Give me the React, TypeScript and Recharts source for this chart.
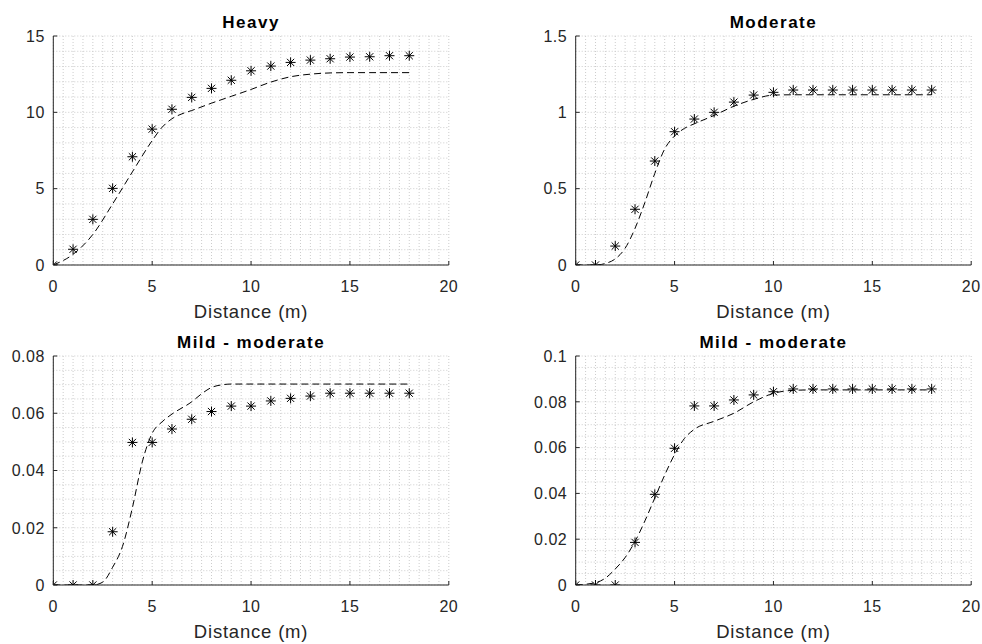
import React from "react";
import { CartesianGrid, ComposedChart, Line, Scatter, XAxis, YAxis } from "recharts";

// measured points (stars), one per metre
const distance = [0, 1, 2, 3, 4, 5, 6, 7, 8, 9, 10, 11, 12, 13, 14, 15, 16, 17, 18];
const heavyObserved = [0, 1.03, 2.99, 5.02, 7.09, 8.9, 10.2, 10.98, 11.57, 12.1, 12.72, 13.03, 13.27, 13.42, 13.51, 13.62, 13.64, 13.71, 13.71];
const moderateObserved = [0, 0, 0.124, 0.365, 0.681, 0.873, 0.956, 1.0, 1.067, 1.113, 1.131, 1.146, 1.146, 1.146, 1.146, 1.146, 1.146, 1.146, 1.146];
const mildObserved = [0, 0, 0, 0.0186, 0.0498, 0.0498, 0.0545, 0.0579, 0.0606, 0.0625, 0.0625, 0.0643, 0.0652, 0.066, 0.067, 0.067, 0.067, 0.067, 0.067];
const mild2Observed = [0, 0, 0, 0.0186, 0.0396, 0.0597, 0.0782, 0.0782, 0.0808, 0.083, 0.0844, 0.0856, 0.0856, 0.0856, 0.0856, 0.0856, 0.0856, 0.0856, 0.0856];

// fitted curves (dashed)
const heavyFitX = [0, 1, 2, 3, 4, 5, 5.5, 6, 6.5, 7, 8, 9, 10, 11, 12, 13, 14, 15, 16, 17, 18];
const heavyFitY = [0, 0.7, 2.0, 4.0, 6.1, 8.15, 9.02, 9.58, 9.9, 10.12, 10.6, 11.05, 11.5, 11.98, 12.33, 12.5, 12.58, 12.6, 12.6, 12.6, 12.6];
const moderateFitX = [0, 1, 1.5, 2, 2.5, 3, 3.5, 4, 4.5, 5, 5.5, 6, 7, 8, 9, 10, 11, 12, 13, 14, 15, 16, 17, 18];
const moderateFitY = [0, 0, 0.01, 0.04, 0.11, 0.24, 0.41, 0.6, 0.76, 0.845, 0.895, 0.925, 0.98, 1.04, 1.085, 1.113, 1.115, 1.115, 1.115, 1.115, 1.115, 1.115, 1.115, 1.115];
const mildFitX = [0, 1, 2, 2.5, 3, 3.5, 4, 4.5, 5, 5.5, 6, 7, 7.5, 8, 8.5, 9, 10, 11, 12, 13, 14, 15, 16, 17, 18];
const mildFitY = [0, 0, 0, 0.001, 0.0062, 0.0135, 0.027, 0.043, 0.053, 0.057, 0.0597, 0.064, 0.0668, 0.069, 0.0699, 0.0702, 0.0702, 0.0702, 0.0702, 0.0702, 0.0702, 0.0702, 0.0702, 0.0702, 0.0702];
const mild2FitX = [0, 1, 1.5, 2, 2.5, 3, 3.5, 4, 4.5, 5, 5.5, 6, 7, 8, 9, 10, 11, 12, 13, 14, 15, 16, 17, 18];
const mild2FitY = [0, 0.001, 0.003, 0.007, 0.012, 0.019, 0.028, 0.038, 0.048, 0.057, 0.064, 0.068, 0.0715, 0.075, 0.08, 0.0837, 0.085, 0.0852, 0.0852, 0.0852, 0.0852, 0.0852, 0.0852, 0.0852];

const xTicks = [0, 5, 10, 15, 20];
const heavyTicks = [0, 5, 10, 15];
const moderateTicks = [0, 0.5, 1, 1.5];
const mildTicks = [0, 0.02, 0.04, 0.06, 0.08];
const mild2Ticks = [0, 0.02, 0.04, 0.06, 0.08, 0.1];

const INK = "#262626";
const FONT = "'Liberation Sans', Arial, Helvetica, sans-serif";

const steps = (max: number, step: number) => {
  const out: number[] = [];
  for (let i = 0; i * step <= max + step / 1000; i++) out.push(+(i * step).toFixed(6));
  return out;
};

const xMinor = steps(20, 0.5);

function XTick({ x, y, payload }: any) {
  return (
    <g>
      <line x1={x} x2={x} y1={y} y2={y - 4} stroke={INK} />
      <text x={x} y={y + 26.7} textAnchor="middle" fill={INK} fontSize={16} fontFamily={FONT} style={{ letterSpacing: 0.5 }}>
        {payload.value}
      </text>
    </g>
  );
}

function YTick({ x, y, payload }: any) {
  return (
    <g>
      <line x1={x} x2={x + 4} y1={y} y2={y} stroke={INK} />
      <text x={x - 8.5} y={y} dy="0.36em" textAnchor="end" fill={INK} fontSize={16} fontFamily={FONT} style={{ letterSpacing: 0.5 }}>
        {payload.value}
      </text>
    </g>
  );
}

function Star({ cx, cy }: any) {
  const r = 5;
  const d = 3.6;
  return (
    <g stroke="#000" strokeWidth={1}>
      <line x1={cx - r} x2={cx + r} y1={cy} y2={cy} />
      <line x1={cx} x2={cx} y1={cy - r} y2={cy + r} />
      <line x1={cx - d} x2={cx + d} y1={cy - d} y2={cy + d} />
      <line x1={cx - d} x2={cx + d} y1={cy + d} y2={cy - d} />
    </g>
  );
}

interface PanelProps {
  left: number;
  top: number;
  yAxisWidth: number;
  width: number;
  title: string;
  observed: number[];
  fitX: number[];
  fitY: number[];
  yTicks: number[];
  yMinorStep: number;
}

function Panel({ left, top, yAxisWidth, width, title, observed, fitX, fitY, yTicks, yMinorStep }: PanelProps) {
  const yMax = yTicks[yTicks.length - 1];
  const points = distance.map((x, i) => ({ x, y: observed[i] }));
  const fit = fitX.map((x, i) => ({ x, y: fitY[i] }));
  const plotW = 395.5;
  const rightMargin = width - yAxisWidth - plotW;
  return (
    <div style={{ position: "absolute", left, top, width, height: 320 }}>
      <div
        style={{
          position: "absolute",
          left: yAxisWidth,
          width: plotW,
          top: 13.9,
          textAlign: "center",
          fontFamily: FONT,
          fontWeight: "bold",
          fontSize: 17,
          lineHeight: "17px",
          letterSpacing: 1.5,
          color: "#000",
        }}
      >
        {title}
      </div>
      <ComposedChart width={width} height={320} margin={{ top: 36, right: rightMargin, bottom: 0, left: 0 }}>
        <CartesianGrid
          stroke="#cccccc"
          strokeDasharray="1 2"
          verticalValues={xMinor}
          horizontalValues={steps(yMax, yMinorStep)}
        />
        <XAxis
          type="number"
          dataKey="x"
          domain={[0, 20]}
          ticks={xTicks}
          interval={0}
          allowDataOverflow
          height={55}
          tickSize={0}
          tickMargin={0}
          tickLine={false}
          axisLine={{ stroke: INK }}
          tick={<XTick />}
        />
        <YAxis
          type="number"
          dataKey="y"
          domain={[0, yMax]}
          ticks={yTicks}
          interval={0}
          allowDataOverflow
          width={yAxisWidth}
          tickSize={0}
          tickMargin={0}
          tickLine={false}
          axisLine={{ stroke: INK }}
          tick={<YTick />}
        />
        <Line
          data={fit}
          dataKey="y"
          type="monotone"
          stroke="#000"
          strokeWidth={1}
          strokeDasharray="7 4"
          dot={false}
          activeDot={false}
          isAnimationActive={false}
        />
        <Scatter data={points} dataKey="y" shape={<Star />} isAnimationActive={false} />
      </ComposedChart>
      <div
        style={{
          position: "absolute",
          left: yAxisWidth,
          width: plotW,
          top: 302.6,
          textAlign: "center",
          fontFamily: FONT,
          fontSize: 18.5,
          lineHeight: "18.5px",
          letterSpacing: 0.8,
          color: INK,
        }}
      >
        Distance (m)
      </div>
    </div>
  );
}

export default function App() {
  return (
    <div style={{ position: "absolute", left: 0, top: 0, width: 982, height: 644, background: "#fff", overflow: "hidden" }}>
      <Panel left={0} top={0} yAxisWidth={53.3} width={470} title="Heavy" observed={heavyObserved} fitX={heavyFitX} fitY={heavyFitY} yTicks={heavyTicks} yMinorStep={1} />
      <Panel left={500} top={0} yAxisWidth={75.7} width={482} title="Moderate" observed={moderateObserved} fitX={moderateFitX} fitY={moderateFitY} yTicks={moderateTicks} yMinorStep={0.1} />
      <Panel left={0} top={320} yAxisWidth={53.3} width={470} title="Mild - moderate" observed={mildObserved} fitX={mildFitX} fitY={mildFitY} yTicks={mildTicks} yMinorStep={0.005} />
      <Panel left={500} top={320} yAxisWidth={75.7} width={482} title="Mild - moderate" observed={mild2Observed} fitX={mild2FitX} fitY={mild2FitY} yTicks={mild2Ticks} yMinorStep={0.005} />
    </div>
  );
}
